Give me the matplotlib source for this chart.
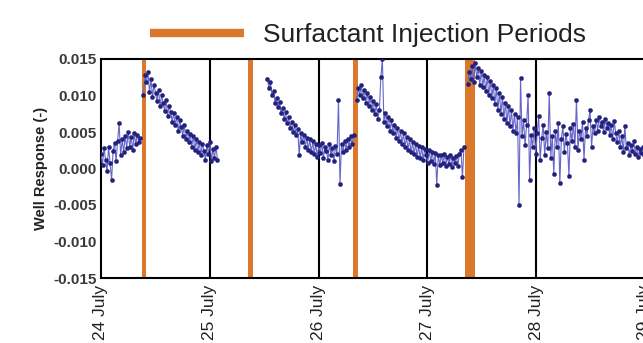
#!/usr/bin/env python3
"""
Well response during the surfactant injection test (24-29 July).
Run: python plot.py  -> out.png
"""
import numpy as np
import matplotlib
matplotlib.use('Agg')
import matplotlib.pyplot as plt
from matplotlib.lines import Line2D

plt.rcParams['font.family'] = ['Liberation Sans', 'DejaVu Sans']

# Sampling interval of the logger (20 min, in days)
DT = 1.0 / 72.0

# Well response, one list per continuous record (start day in July, values)
seg_a_start = 24.0
seg_a = [0.0020, 0.0005, 0.0028, 0.0012, -0.0004, 0.0030, 0.0008, -0.0016, 0.0024,
         0.0035, 0.0010, 0.0038, 0.0062, 0.0018, 0.0040, 0.0022, 0.0045, 0.0028,
         0.0050, 0.0030, 0.0043, 0.0025, 0.0048, 0.0033, 0.0046, 0.0036, 0.0042]

seg_b_start = 24.39
seg_b = [0.0100, 0.0128, 0.0118, 0.0132, 0.0105, 0.0122, 0.0098, 0.0115, 0.0104, 0.0092,
         0.0108, 0.0086, 0.0100, 0.0090, 0.0079, 0.0094, 0.0072, 0.0086, 0.0078, 0.0064,
         0.0076, 0.0060, 0.0071, 0.0052, 0.0066, 0.0057, 0.0045, 0.0060, 0.0040, 0.0052,
         0.0036, 0.0047, 0.0030, 0.0044, 0.0026, 0.0040, 0.0022, 0.0036, 0.0018, 0.0034,
         0.0024, 0.0012, 0.0032, 0.0020, 0.0036, 0.0010, 0.0027, 0.0015, 0.0030, 0.0012]

seg_c_start = 25.53
seg_c = [0.0122, 0.0110, 0.0118, 0.0100, 0.0106, 0.0090, 0.0097, 0.0084, 0.0091, 0.0076,
         0.0083, 0.0068, 0.0077, 0.0062, 0.0070, 0.0056, 0.0064, 0.0050, 0.0059, 0.0046,
         0.0054, 0.0018, 0.0048, 0.0036, 0.0046, 0.0030, 0.0042, 0.0026, 0.0040, 0.0022,
         0.0037, 0.0020, 0.0034, 0.0016, 0.0032, 0.0021, 0.0035, 0.0014, 0.0030, 0.0024,
         0.0012, 0.0033, 0.0019, 0.0028, 0.0010, 0.0031, 0.0020, 0.0094, -0.0021, 0.0034,
         0.0022, 0.0038, 0.0026, 0.0041, 0.0030, 0.0044, 0.0033, 0.0046]

seg_d_start = 26.35
seg_d = [0.0094, 0.0110, 0.0100, 0.0114, 0.0096, 0.0108, 0.0090, 0.0104, 0.0086, 0.0098,
         0.0080, 0.0092, 0.0074, 0.0088, 0.0068, 0.0080, 0.0125, 0.0150, 0.0064, 0.0076,
         0.0058, 0.0070, 0.0052, 0.0066, 0.0048, 0.0060, 0.0042, 0.0056, 0.0038, 0.0051,
         0.0034, 0.0048, 0.0030, 0.0043, 0.0026, 0.0040, 0.0022, 0.0036, 0.0020, 0.0034,
         0.0016, 0.0031, 0.0014, 0.0029, 0.0012, 0.0027, 0.0018, 0.0008, 0.0025, 0.0010,
         0.0023, 0.0006, 0.0021, -0.0022, 0.0019, 0.0005, 0.0018, 0.0008, 0.0020, 0.0003,
         0.0016, 0.0006, 0.0019, 0.0002, 0.0015, 0.0007, 0.0017, 0.0004, 0.0020, 0.0026,
         -0.0012, 0.0030]

seg_e_start = 27.37
seg_e = [0.0116, 0.0132, 0.0122, 0.0140, 0.0118, 0.0144, 0.0125, 0.0138, 0.0115, 0.0133,
         0.0112, 0.0128, 0.0106, 0.0126, 0.0100, 0.0120, 0.0096, 0.0115, 0.0088, 0.0110,
         0.0080, 0.0104, 0.0075, 0.0098, 0.0068, 0.0090, 0.0062, 0.0086, 0.0058, 0.0080,
         0.0052, 0.0075, 0.0048, 0.0070, -0.0050, 0.0124, 0.0044, 0.0066, 0.0032, 0.0060,
         0.0101, -0.0016, 0.0046, 0.0030, 0.0055, 0.0020, 0.0048, 0.0072, 0.0012, 0.0042,
         0.0060, 0.0018, 0.0050, 0.0028, 0.0103, 0.0015, 0.0045, -0.0008, 0.0052, 0.0030,
         0.0063, -0.0020, 0.0040, 0.0058, 0.0022, 0.0047, 0.0035, -0.0010, 0.0055, 0.0038,
         0.0061, 0.0030, 0.0094, 0.0026, 0.0052, 0.0040, 0.0064, 0.0012, 0.0056, 0.0045,
         0.0066, 0.0080, 0.0030, 0.0058, 0.0048, 0.0067, 0.0052, 0.0070, 0.0058, 0.0064,
         0.0050, 0.0068, 0.0055, 0.0062, 0.0046, 0.0059, 0.0040, 0.0065, 0.0048, 0.0036,
         0.0052, 0.0030, 0.0044, 0.0022, 0.0058, 0.0028, 0.0035, 0.0018, 0.0032, 0.0024,
         0.0038, 0.0020, 0.0030, 0.0016, 0.0027, 0.0021, 0.0029, 0.0019]

# Surfactant injection periods (start, end), day of July
injection_starts = [24.377, 25.351, 26.316, 27.346]
injection_ends = [24.414, 25.397, 26.362, 27.437]

day_ticks = [24, 25, 26, 27, 28, 29]
day_labels = ['24 July', '25 July', '26 July', '27 July', '28 July', '29 July']
y_ticks = [0.015, 0.010, 0.005, 0.000, -0.005, -0.010, -0.015]

ORANGE = '#DB782C'
NAVY = '#22227E'
LINE = '#6666C8'


def main():
    fig = plt.figure(figsize=(6.43, 3.43), dpi=100)
    ax = fig.add_axes([101 / 643, 65 / 343, 544 / 643, 219 / 343])

    # injection periods
    for s, e in zip(injection_starts, injection_ends):
        ax.axvspan(s, e, color=ORANGE, lw=0, zorder=1)

    # day separators
    for d in day_ticks[1:]:
        ax.axvline(d, color='black', lw=1.5, zorder=2)

    # well response records
    for start, vals in [(seg_a_start, seg_a), (seg_b_start, seg_b), (seg_c_start, seg_c),
                        (seg_d_start, seg_d), (seg_e_start, seg_e)]:
        t = start + np.arange(len(vals)) * DT
        ax.plot(t, vals, color=LINE, lw=0.8, marker='o', ms=3.0,
                mfc=NAVY, mec=NAVY, mew=0.3, zorder=3)

    ax.set_xlim(24, 29)
    ax.set_ylim(-0.015, 0.015)
    ax.set_xticks(day_ticks)
    ax.set_xticklabels(day_labels, rotation=90, fontsize=12.5, color='#222222')
    ax.set_yticks(y_ticks)
    ax.set_yticklabels(['%.3f' % v for v in y_ticks], fontsize=11, fontweight='bold',
                       color='#3a3a3a')
    ax.tick_params(axis='both', length=0)
    ax.tick_params(axis='x', pad=5)
    ax.tick_params(axis='y', pad=3)
    for sp in ax.spines.values():
        sp.set_linewidth(1.5)
        sp.set_color('black')
    ax.set_ylabel('Well Response (-)', fontsize=10.5, fontweight='bold', color='#222222',
                  labelpad=4)

    handle = Line2D([], [], color=ORANGE, lw=6, solid_capstyle='butt')
    fig.legend([handle], ['Surfactant Injection Periods'], loc='center left',
               bbox_to_anchor=(150 / 643, 1 - 35 / 343), frameon=False,
               fontsize=19, handlelength=3.55, handletextpad=0.75, borderpad=0,
               borderaxespad=0, labelcolor='#222222')

    fig.savefig('out.png', dpi=100)
    plt.close(fig)


if __name__ == '__main__':
    main()
